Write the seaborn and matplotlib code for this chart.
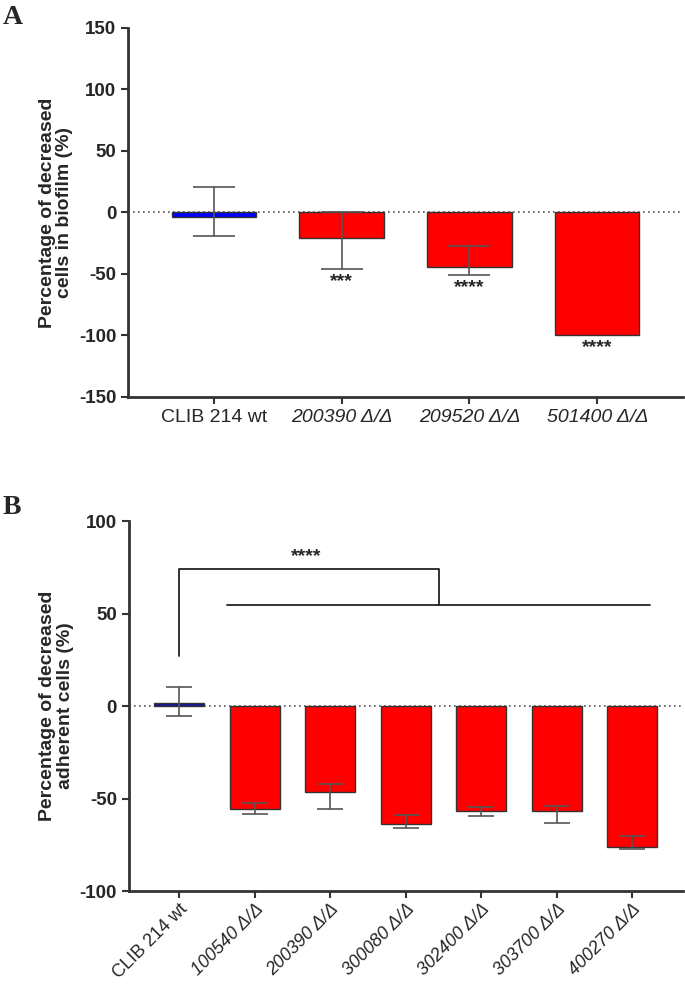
import numpy as np
import pandas as pd
import seaborn as sns
import matplotlib.pyplot as plt

# Panel A - decrease of cells in biofilm (%)
strains_a = ['CLIB 214 wt', '200390 Δ/Δ', '209520 Δ/Δ', '501400 Δ/Δ']
mean_a = [-4, -21, -44, -100]
err_lo_a = [-19, -46, -51, np.nan]
err_hi_a = [21, 0.5, -27, np.nan]
stars_a = ['', '***', '****', '****']

# Panel B - decrease of adherent cells (%)
strains_b = ['CLIB 214 wt', '100540 Δ/Δ', '200390 Δ/Δ', '300080 Δ/Δ',
             '302400 Δ/Δ', '303700 Δ/Δ', '400270 Δ/Δ']
mean_b = [1.5, -55.5, -46.5, -63.5, -57, -56.7, -76]
err_lo_b = [-5.5, -58.5, -55.5, -66, -59.3, -63, -77.2]
err_hi_b = [10.5, -52.5, -42.3, -58.8, -54.4, -54, -70.3]

sns.set_style('ticks')
plt.rcParams['font.family'] = ['Liberation Sans', 'DejaVu Sans']
plt.rcParams['axes.unicode_minus'] = False

fig = plt.figure(figsize=(6.85, 9.85), dpi=100)
ax_a = fig.add_axes([0.187, 0.597, 0.81, 0.3746])
ax_b = fig.add_axes([0.188, 0.0954, 0.809, 0.3756])


def draw_panel(ax, strains, mean, lo, hi, wt_color, capsize):
    df = pd.DataFrame({'strain': strains, 'value': mean})
    pal = [wt_color] + ['#ff0000'] * (len(strains) - 1)
    sns.barplot(data=df, x='strain', y='value', hue='strain', palette=pal,
                legend=False, width=0.66, edgecolor='#333333', linewidth=1,
                errorbar=None, saturation=1, ax=ax)
    x = np.arange(len(strains))
    m = np.array(mean, dtype=float)
    lo = np.array(lo, dtype=float)
    hi = np.array(hi, dtype=float)
    ok = ~np.isnan(lo)
    yerr = [(m - lo)[ok], (hi - m)[ok]]
    ax.errorbar(x[ok], m[ok], yerr=yerr, fmt='none', ecolor='#555555',
                elinewidth=1.2, capsize=capsize, capthick=1.2)
    ax.axhline(0, ls=(0, (1, 2)), color='#555555', lw=1.2, zorder=0.5)
    ax.set_xlim(-0.67, len(strains) - 0.33)
    sns.despine(ax=ax)
    for s in ['left', 'bottom']:
        ax.spines[s].set_linewidth(2)
        ax.spines[s].set_color('#333333')
    ax.tick_params(axis='both', length=5, width=1.5, color='#333333')
    ax.set_xlabel('')


def style_yticks(ax):
    for lab in ax.get_yticklabels():
        lab.set_fontweight('bold')
        lab.set_fontsize(13.5)


# ---- Panel A ----
draw_panel(ax_a, strains_a, mean_a, err_lo_a, err_hi_a, '#0000ff', 15)
ax_a.set_ylim(-150, 150)
ax_a.set_yticks(np.arange(-150, 151, 50))
style_yticks(ax_a)
ax_a.set_xticks(range(len(strains_a)))
ax_a.set_xticklabels(strains_a, fontsize=14)
for i, lab in enumerate(ax_a.get_xticklabels()):
    if i > 0:
        lab.set_fontstyle('italic')
ax_a.set_ylabel('Percentage of decreased\ncells in biofilm (%)',
                fontsize=14, fontweight='bold', labelpad=4, linespacing=1.05)
for i, s in enumerate(stars_a):
    if s:
        low = mean_a[i] if np.isnan(err_lo_a[i]) else min(err_lo_a[i], mean_a[i])
        ax_a.text(i, low - 10, s, ha='center', va='center', fontsize=14,
                  fontweight='bold')

# ---- Panel B ----
draw_panel(ax_b, strains_b, mean_b, err_lo_b, err_hi_b, '#1414a0', 9.5)
ax_b.set_ylim(-100, 100)
ax_b.set_yticks(np.arange(-100, 101, 50))
style_yticks(ax_b)
ax_b.set_xticks(range(len(strains_b)))
ax_b.tick_params(axis='x', pad=2)
ax_b.set_xticklabels(strains_b, fontsize=13, rotation=45, ha='right',
                     va='top', rotation_mode='anchor')
for i, lab in enumerate(ax_b.get_xticklabels()):
    if i > 0:
        lab.set_fontstyle('italic')
ax_b.set_ylabel('Percentage of decreased\nadherent cells (%)',
                fontsize=14, fontweight='bold', labelpad=4, linespacing=1.05)

# significance bracket: wt vs all mutants
n_b = len(strains_b)
mid = (0.63 + n_b - 1 + 0.24) / 2
ax_b.plot([0, 0, mid, mid], [27, 74, 74, 54.5], color='#222222', lw=1.3)
ax_b.plot([0.63, n_b - 1 + 0.24], [54.5, 54.5], color='#222222', lw=1.3)
ax_b.text(1.68, 81, '****', ha='center', va='center', fontsize=14,
          fontweight='bold')

# panel letters
fig.text(0.004, 0.995, 'A', fontsize=20, fontweight='bold',
         family='Liberation Serif', va='top')
fig.text(0.004, 0.497, 'B', fontsize=20, fontweight='bold',
         family='Liberation Serif', va='top')

fig.savefig('out.png', dpi=100)
